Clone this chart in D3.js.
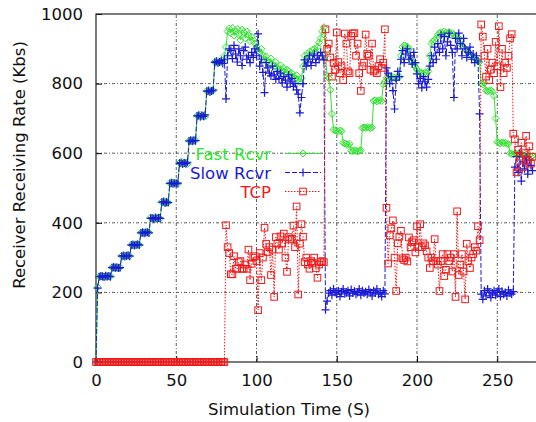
<!DOCTYPE html>
<html>
<head>
<meta charset="utf-8">
<script src="https://cdn.jsdelivr.net/npm/d3@7"></script>
<style>
body { margin:0; background:#fff; }
text { font-family: "DejaVu Sans", Arial, sans-serif; }
</style>
</head>
<body>
<div id="chart"></div>
<script>
// receiving rate (Kbs), one sample per second of simulation time
var fastRcvr = [
  0,215,246,245,248,246,244,247,245,246,       // t 0
  272,270,273,271,269,272,305,303,306,304,     // t 10
  307,305,337,335,338,336,339,337,372,370,     // t 20
  373,371,374,372,415,412,414,411,413,416,     // t 30
  412,460,458,461,457,459,514,512,516,513,     // t 40
  515,511,572,570,574,571,573,569,636,634,     // t 50
  638,635,637,708,706,710,707,709,705,779,     // t 60
  777,781,778,780,862,860,865,863,861,866,     // t 70
  880,905,950,958,945,960,938,952,957,940,     // t 80
  925,955,948,930,950,940,922,935,925,915,     // t 90
  905,895,890,900,882,870,878,865,860,872,     // t 100
  855,850,862,846,840,852,836,845,830,840,     // t 110
  835,826,830,820,815,824,812,805,815,850,     // t 120
  880,870,885,892,880,896,900,890,906,918,     // t 130
  930,950,962,880,822,815,782,713,668,665,     // t 140
  664,662,666,663,630,628,626,624,627,607,     // t 150
  606,608,607,605,607,608,673,674,672,675,     // t 160
  673,672,674,750,752,749,751,753,750,798,     // t 170
  805,817,815,818,816,819,817,815,818,820,     // t 180
  880,905,910,908,906,900,870,862,855,848,     // t 190
  840,835,832,830,828,833,830,835,880,915,     // t 200
  922,925,930,940,945,948,943,950,946,944,     // t 210
  948,942,945,940,938,935,930,925,910,905,     // t 220
  900,895,890,885,880,878,872,868,865,862,     // t 230
  800,798,802,780,778,779,781,777,765,700,     // t 240
  632,630,628,631,629,630,627,626,600,598,     // t 250
  597,599,598,596,598,597,595,593,596,592,     // t 260
  594,590,592                                  // t 270
];

var slowRcvr = [
  0,212,245,247,246,244,248,246,247,245,
  271,273,270,272,270,271,304,306,303,305,
  306,304,336,338,335,337,338,336,371,373,
  370,372,373,371,413,414,411,415,412,414,
  413,459,461,457,460,458,513,515,512,514,
  512,514,571,573,569,572,570,574,635,637,
  634,637,636,707,709,705,708,706,710,778,
  780,776,779,781,861,864,859,862,866,858,
  870,756,880,900,895,872,910,885,862,900,
  880,852,895,905,870,880,860,890,875,900,
  880,943,850,870,832,774,860,845,830,822,
  850,825,812,835,815,830,802,820,810,790,
  825,805,815,792,800,782,770,716,760,800,
  868,850,862,880,852,870,885,860,880,870,
  890,880,868,150,175,198,205,192,210,200,
  195,205,188,202,210,196,200,205,190,208,
  198,203,195,200,210,192,205,198,202,195,
  208,200,190,205,198,210,195,200,188,205,
  196,845,830,800,820,780,727,810,835,820,
  870,895,860,885,900,870,880,856,890,860,
  828,800,815,788,820,805,790,812,850,880,
  860,905,870,915,890,940,900,935,880,920,
  945,910,890,760,930,900,945,915,880,930,
  900,875,890,905,870,885,860,880,865,713,
  195,180,205,190,210,200,185,198,205,192,
  200,210,188,203,195,200,190,207,198,195,
  202,560,590,545,600,520,575,555,590,540,
  580,565,550
];

var tcp = [
  0,0,0,0,0,0,0,0,0,0,
  0,0,0,0,0,0,0,0,0,0,
  0,0,0,0,0,0,0,0,0,0,
  0,0,0,0,0,0,0,0,0,0,
  0,0,0,0,0,0,0,0,0,0,
  0,0,0,0,0,0,0,0,0,0,
  0,0,0,0,0,0,0,0,0,0,
  0,0,0,0,0,0,0,0,0,0,
  0,393,330,313,252,252,304,268,268,287,
  290,268,268,280,268,323,235,282,300,304,
  290,149,313,235,300,386,340,316,330,250,
  323,187,359,340,323,361,340,369,300,259,
  359,352,354,392,330,447,194,340,396,360,
  287,300,280,268,290,285,300,270,242,280,
  287,290,287,956,900,915,875,820,860,840,
  947,862,830,850,810,944,915,835,830,937,
  944,945,880,915,830,779,850,860,941,885,
  880,840,915,835,840,830,850,870,845,860,
  956,443,283,364,384,407,300,204,341,360,
  377,298,293,300,289,358,330,344,350,315,
  390,330,396,330,341,335,318,300,270,300,
  290,353,290,280,204,290,310,247,265,310,
  290,300,260,310,187,433,250,280,310,260,
  180,340,290,270,300,310,330,320,390,350,
  970,935,880,820,900,810,840,860,830,920,
  850,965,790,900,830,860,845,880,930,942,
  656,640,545,610,590,630,560,600,650,580,
  620,570,590
];

var time = d3.range(0, fastRcvr.length);
var xTicks = [0, 50, 100, 150, 200, 250, 300];
var yTicks = [0, 200, 400, 600, 800, 1000];
var seriesNames = ["Fast Rcvr", "Slow Rcvr", "TCP"];

var width = 536, height = 422;
var x = d3.scaleLinear().domain([0, 300]).range([96, 577.5]);
var y = d3.scaleLinear().domain([0, 1000]).range([362, 14]);

var colors = ["#2fe52f", "#1a1ad6", "#f01a1a"];
var dashes = [null, "5,2", "1.5,1.5"];
var fontSize = "16.5px";

var svg = d3.select("#chart").append("svg").attr("width", width).attr("height", height);

// grid
svg.append("g").selectAll("line")
    .data(xTicks.slice(1, -1))
  .enter().append("line")
    .attr("x1", function(d) { return x(d); })
    .attr("x2", function(d) { return x(d); })
    .attr("y1", y(0)).attr("y2", y(1000))
    .attr("stroke", "#333").attr("stroke-width", 0.8)
    .attr("stroke-dasharray", "3,2,1,2");

svg.append("g").selectAll("line")
    .data(yTicks.slice(1, -1))
  .enter().append("line")
    .attr("x1", x(0)).attr("x2", x(300))
    .attr("y1", function(d) { return y(d); })
    .attr("y2", function(d) { return y(d); })
    .attr("stroke", "#333").attr("stroke-width", 0.8)
    .attr("stroke-dasharray", "3,2,1,2");

// axes
var yAxis = svg.append("g")
    .attr("transform", "translate(" + x(0) + ",0)")
    .call(d3.axisLeft(y).tickValues(yTicks).tickFormat(d3.format("d")).tickSize(-6).tickPadding(13));
var xAxis = svg.append("g")
    .attr("transform", "translate(0," + y(0) + ")")
    .call(d3.axisBottom(x).tickValues(xTicks.slice(0, -1)).tickFormat(d3.format("d")).tickSize(-6).tickPadding(12));

[yAxis, xAxis].forEach(function(a) {
  a.select(".domain").remove();
  a.selectAll("line").attr("stroke", "#000");
  a.selectAll("text").attr("fill", "#111").style("font-size", fontSize)
    .style("font-family", "'DejaVu Sans', Arial, sans-serif");
});

svg.append("rect")
  .attr("x", x(0)).attr("y", y(1000))
  .attr("width", x(300) - x(0)).attr("height", y(0) - y(1000))
  .attr("fill", "none").attr("stroke", "#222").attr("stroke-width", 1.2);

// axis titles
svg.append("text")
  .attr("x", 289).attr("y", 415)
  .attr("text-anchor", "middle")
  .style("font-size", fontSize).attr("fill", "#111")
  .text("Simulation Time (S)");

svg.append("text")
  .attr("transform", "translate(25,165) rotate(-90)")
  .attr("text-anchor", "middle")
  .style("font-size", fontSize).attr("fill", "#111")
  .text("Receiver Receiving Rate (Kbs)");

// markers
function drawMarker(g, k, cx, cy) {
  if (k === 0) {
    g.append("path")
      .attr("d", "M" + cx + "," + (cy - 3.5) + "L" + (cx + 3.5) + "," + cy + "L" + cx + "," + (cy + 3.5) + "L" + (cx - 3.5) + "," + cy + "Z")
      .attr("fill", "none").attr("stroke", colors[0]).attr("stroke-width", 1);
  } else if (k === 1) {
    g.append("path")
      .attr("d", "M" + (cx - 4) + "," + cy + "H" + (cx + 4) + "M" + cx + "," + (cy - 4) + "V" + (cy + 4))
      .attr("stroke", colors[1]).attr("stroke-width", 1.2);
  } else {
    g.append("rect")
      .attr("x", cx - 3.3).attr("y", cy - 3.3).attr("width", 6.6).attr("height", 6.6)
      .attr("fill", "none").attr("stroke", colors[2]).attr("stroke-width", 1);
  }
}

var allSeries = [fastRcvr, slowRcvr, tcp];
var line = d3.line()
  .x(function(d, i) { return x(time[i]); })
  .y(function(d) { return y(d); });

allSeries.forEach(function(vals, k) {
  var g = svg.append("g");
  g.append("path")
    .attr("d", line(vals))
    .attr("fill", "none")
    .attr("stroke", colors[k])
    .attr("stroke-width", 1)
    .attr("stroke-dasharray", dashes[k]);
  vals.forEach(function(v, i) { drawMarker(g, k, x(time[i]), y(v)); });
});

// legend
var legendY = [153.5, 172.5, 191.5];
seriesNames.forEach(function(name, k) {
  var g = svg.append("g");
  g.append("text")
    .attr("x", 271).attr("y", legendY[k] + 6)
    .attr("text-anchor", "end")
    .style("font-size", fontSize)
    .attr("fill", colors[k])
    .text(name);
  g.append("line")
    .attr("x1", 285).attr("x2", 321)
    .attr("y1", legendY[k]).attr("y2", legendY[k])
    .attr("stroke", colors[k]).attr("stroke-width", 1)
    .attr("stroke-dasharray", dashes[k]);
  drawMarker(g, k, 303, legendY[k]);
});
</script>
</body>
</html>
